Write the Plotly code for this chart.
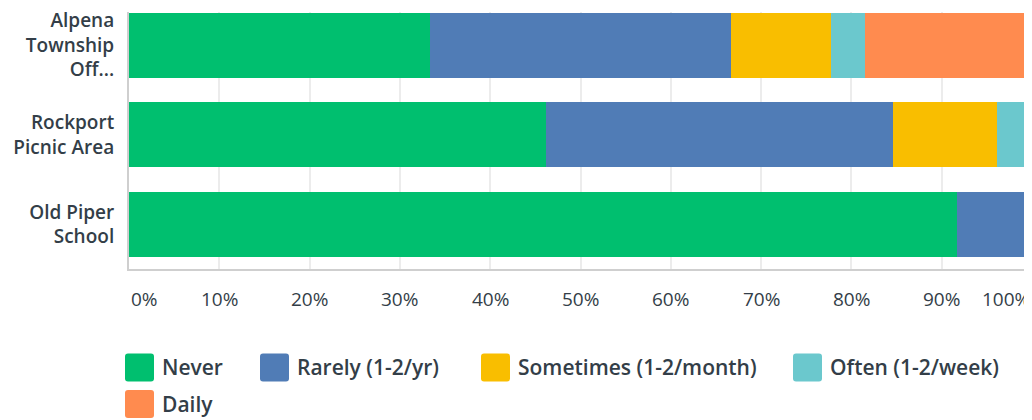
import plotly.graph_objects as go

categories = ["Alpena<br>Township<br>Off...", "Rockport<br>Picnic Area", "Old Piper<br>School"]
series_names = ["Never", "Rarely (1-2/yr)", "Sometimes (1-2/month)", "Often (1-2/week)", "Daily"]
never = [33.33, 46.15, 91.67]
rarely = [33.33, 38.46, 8.33]
sometimes = [11.11, 11.54, 0]
often = [3.70, 3.85, 0]
daily = [18.52, 0, 0]
tick_values = [0, 10, 20, 30, 40, 50, 60, 70, 80, 90, 100]
tick_labels = ["0%", "10%", "20%", "30%", "40%", "50%", "60%", "70%", "80%", "90%", "100%"]

series_values = [never, rarely, sometimes, often, daily]
colors = ["#00bf6f", "#507cb6", "#f9be00", "#6bc8cd", "#ff8b4f"]
TXT = "#333e48"
FONT = "Open Sans"

fig = go.Figure()
for name, vals, col in zip(series_names, series_values, colors):
    fig.add_trace(go.Bar(
        y=categories, x=vals, name=name, orientation="h",
        marker=dict(color=col, line=dict(width=0)),
        showlegend=False,
    ))

# page body has an 8px margin; figure is sized so it fits the window
OFF = 8
W, H = 1024, 412
L, T = 121, 0
plot_bottom = 261
B = H - plot_bottom
plot_h = H - T - B
plot_w = W - L

annotations = []
for v, lab in zip(tick_values, tick_labels):
    anchor = "left" if v == tick_values[0] else ("right" if v == tick_values[-1] else "center")
    annotations.append(dict(
        x=v, y=0, xref="x", yref="paper", text=lab, showarrow=False,
        xanchor=anchor, yanchor="middle", yshift=-30,
        font=dict(family=FONT, size=19, color=TXT, weight=500),
    ))

# custom legend (window pixel coordinates of the squares' centres)
legend_pos = [(139.5, 369), (274.5, 369), (495.5, 369), (807.5, 369), (139.5, 406)]
shapes = []
for (cx, cy), name, col in zip(legend_pos, series_names, colors):
    fx, fy = cx - OFF, cy - OFF
    px = (fx - L) / plot_w
    py = (T + plot_h - fy) / plot_h
    r = 3
    hw, hh = 14.5, 14
    path = (f"M {-hw+r},{-hh} L {hw-r},{-hh} Q {hw},{-hh} {hw},{-hh+r} "
            f"L {hw},{hh-r} Q {hw},{hh} {hw-r},{hh} L {-hw+r},{hh} "
            f"Q {-hw},{hh} {-hw},{hh-r} L {-hw},{-hh+r} Q {-hw},{-hh} {-hw+r},{-hh} Z")
    shapes.append(dict(
        type="path", xref="paper", yref="paper", xsizemode="pixel", ysizemode="pixel",
        xanchor=px, yanchor=py, path=path, fillcolor=col, line=dict(width=0),
    ))
    annotations.append(dict(
        x=(fx + 20.5 - L) / plot_w, y=py, xref="paper", yref="paper", text=name,
        showarrow=False, xanchor="left", yanchor="middle",
        font=dict(family=FONT, size=21, color=TXT, weight=600),
    ))

fig.update_layout(
    width=W, height=H,
    margin=dict(l=L, r=0, t=T, b=B, pad=0),
    barmode="stack", bargap=0.274,
    plot_bgcolor="white", paper_bgcolor="white",
    showlegend=False,
    xaxis=dict(range=[0, 100], tickvals=tick_values, showticklabels=False,
               showgrid=True, gridcolor="#ececec", gridwidth=2,
               showline=True, linecolor="#cfcfcf", linewidth=2,
               zeroline=False, ticks="", fixedrange=True),
    yaxis=dict(categoryorder="array", categoryarray=categories,
               range=[2.5, -0.37], showgrid=False, zeroline=False,
               showline=True, linecolor="#cfcfcf", linewidth=2,
               ticks="", ticklabelstandoff=9,
               tickfont=dict(family=FONT, size=19, color=TXT, weight=600)),
    annotations=annotations, shapes=shapes,
)

fig.write_html("out.html")
